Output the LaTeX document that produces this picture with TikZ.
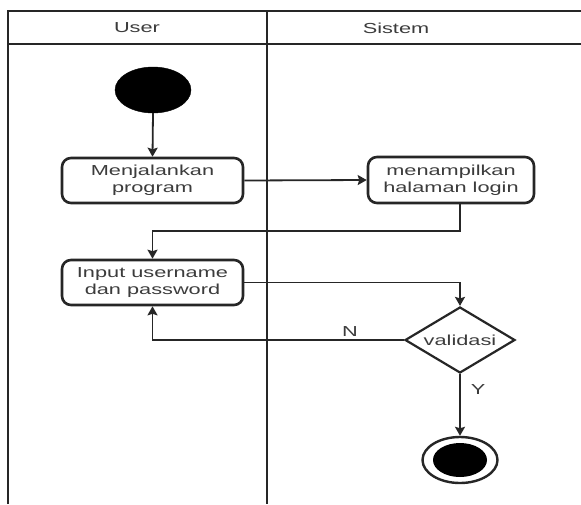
\documentclass[tikz,border=0pt]{standalone}
\usepackage{fontspec}
\setmainfont{Liberation Sans}[FakeStretch=1.5]
\usetikzlibrary{arrows.meta,shapes.geometric,calc}
\definecolor{inkline}{HTML}{262626}
\definecolor{inktext}{HTML}{3C3C3C}

\tikzset{
  lane/.style={line width=1.8pt, draw=inkline},
  actbox/.style={draw=inkline, line width=2.6pt, rounded corners=9pt,
    minimum width=181pt, minimum height=45pt, inner sep=0pt,
    align=center, text=inktext, font=\fontsize{14.5}{17}\selectfont},
  flow/.style={line width=1.8pt, draw=inkline,
    -{Stealth[length=9pt,width=10pt,inset=1.5pt]}},
  lbl/.style={text=inktext, font=\fontsize{14.5}{17}\selectfont, inner sep=0pt},
  initnode/.style={ellipse, fill=black, draw=black, minimum width=76pt,
    minimum height=46pt, inner sep=0pt},
  decision/.style={diamond, draw=inkline, line width=2.2pt, aspect=1.67,
    minimum width=110pt, minimum height=66pt, inner sep=0pt,
    text=inktext, font=\fontsize{14.5}{17}\selectfont},
}

\begin{document}
\begin{tikzpicture}[x=1pt, y=-1pt]
  \useasboundingbox (0,0) rectangle (581,504);
  \fill[white] (0,0) rectangle (581,504);

  % swimlane frame
  \draw[lane] (8,504) -- (8,11) -- (581,11);
  \draw[lane] (8,44) -- (581,44);
  \draw[lane] (267,11) -- (267,504);
  \node[lbl] (laneuser) at (137,28) {User};
  \node[lbl] (lanesys) at (396,28) {Sistem};

  % activities
  \node[initnode] (start) at (153,90) {};
  \node[actbox] (run) at (152.5,180.5) {Menjalankan\\program};
  \node[actbox, minimum width=166pt, minimum height=46pt] (login) at (451,180) {menampilkan\\halaman login};
  \node[actbox] (input) at (152.5,282.5) {Input username\\dan password};
  \node[decision] (valid) at (460,340) {validasi};

  % final node
  \node[ellipse, draw=inkline, line width=2.4pt, minimum width=75pt,
        minimum height=46pt, inner sep=0pt] (final) at (460,460) {};
  \node[ellipse, fill=black, minimum width=54pt, minimum height=34pt,
        inner sep=0pt] (finalcore) at (final.center) {};

  % flow
  \draw[flow] (start.south) -- (run.north);
  \draw[flow] (run.east) -- (login.west);
  \draw[flow] (valid |- login.south) -- ++(0,27) -| (input.north);
  \draw[flow] (input.east) -| (valid.north);
  \draw[flow] (valid.west) -| (input.south);
  \draw[flow] (valid.south) -- (final.north);

  % guards
  \node[lbl] (guardn) at (350,332) {N};
  \node[lbl] (guardy) at (478,390) {Y};
\end{tikzpicture}
\end{document}
